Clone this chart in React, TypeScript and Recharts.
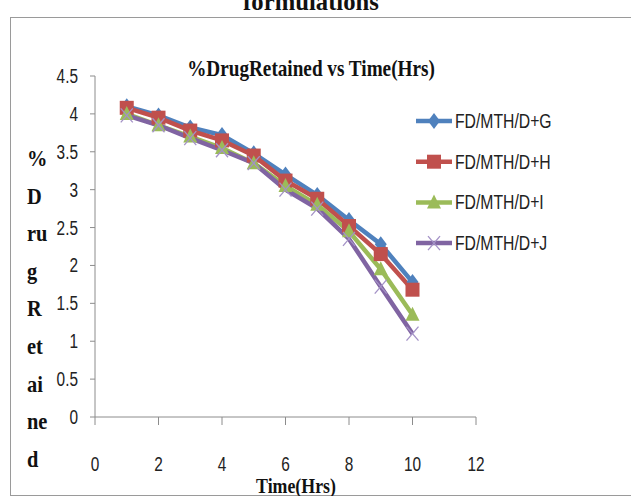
import { LineChart, Line, XAxis, YAxis } from 'recharts'

// hours on the x axis
const hours = [1, 2, 3, 4, 5, 6, 7, 8, 9, 10]

// % drug retained per formulation
const fdG = [4.1, 3.98, 3.82, 3.72, 3.48, 3.2, 2.93, 2.6, 2.28, 1.78]
const fdH = [4.08, 3.95, 3.78, 3.65, 3.45, 3.12, 2.88, 2.52, 2.15, 1.68]
const fdI = [4.0, 3.85, 3.7, 3.55, 3.35, 3.05, 2.8, 2.45, 1.95, 1.35]
const fdJ = [3.98, 3.85, 3.68, 3.52, 3.35, 3.0, 2.75, 2.35, 1.72, 1.1]

const xTicks = [0, 2, 4, 6, 8, 10, 12]
const yTicks = [0, 0.5, 1, 1.5, 2, 2.5, 3, 3.5, 4, 4.5]
const yLabelParts = ['%', 'D', 'ru', 'g', 'R', 'et', 'ai', 'ne', 'd']

const data = hours.map((h, i) => ({ h, G: fdG[i], H: fdH[i], I: fdI[i], J: fdJ[i] }))

const SERIF = '"Liberation Serif", "Times New Roman", serif'
const SANS = '"Liberation Sans", Arial, sans-serif'

const BLUE = '#4f81bd'
const RED = '#c0504d'
const GREEN = '#9bbb59'
const PURPLE = '#8064a2'

// text squeezed horizontally, like the narrow fonts of the original
function Squeezed({ x, y, sx, anchor = 'start', children, ...rest }: any) {
  return (
    <text transform={`translate(${x},${y}) scale(${sx},1)`} textAnchor={anchor} {...rest}>
      {children}
    </text>
  )
}

function Diamond(props: any) {
  const { cx, cy } = props
  if (cx == null || cy == null) return null
  return <polygon points={`${cx},${cy - 8} ${cx + 6},${cy} ${cx},${cy + 8} ${cx - 6},${cy}`} fill={BLUE} />
}

function Square(props: any) {
  const { cx, cy } = props
  if (cx == null || cy == null) return null
  return <rect x={cx - 7} y={cy - 7} width={14} height={14} fill={RED} />
}

function Triangle(props: any) {
  const { cx, cy } = props
  if (cx == null || cy == null) return null
  return <polygon points={`${cx},${cy - 8} ${cx + 7},${cy + 6} ${cx - 7},${cy + 6}`} fill={GREEN} />
}

function Cross(props: any) {
  const { cx, cy } = props
  if (cx == null || cy == null) return null
  return (
    <g stroke="#a391c6" strokeWidth={1.3}>
      <line x1={cx - 6} y1={cy - 7} x2={cx + 6} y2={cy + 7} />
      <line x1={cx - 6} y1={cy + 7} x2={cx + 6} y2={cy - 7} />
    </g>
  )
}

const legendItems = [
  { name: 'FD/MTH/D+G', color: BLUE, Shape: Diamond },
  { name: 'FD/MTH/D+H', color: RED, Shape: Square },
  { name: 'FD/MTH/D+I', color: GREEN, Shape: Triangle },
  { name: 'FD/MTH/D+J', color: PURPLE, Shape: Cross },
]

function XTick(props: any) {
  const { x, payload } = props
  return (
    <Squeezed x={x} y={471} sx={0.77} anchor="middle" fontFamily={SANS} fontSize={20} fill="#222">
      {payload.value}
    </Squeezed>
  )
}

function YTick(props: any) {
  const { y, payload } = props
  return (
    <Squeezed x={78} y={y + 7} sx={0.77} anchor="end" fontFamily={SANS} fontSize={20} fill="#222">
      {payload.value}
    </Squeezed>
  )
}

function YLabel() {
  return (
    <g>
      {yLabelParts.map((p, i) => (
        <Squeezed key={i} x={27} y={166 + i * 37.6} sx={0.85} fontFamily={SERIF} fontWeight="bold" fontSize={24} fill="#111">
          {p}
        </Squeezed>
      ))}
    </g>
  )
}

function XLabel() {
  return (
    <Squeezed x={296} y={493} sx={0.85} anchor="middle" fontFamily={SERIF} fontWeight="bold" fontSize={21} fill="#111">
      Time(Hrs)
    </Squeezed>
  )
}

export default function App() {
  return (
    <div style={{ position: 'absolute', left: 0, top: 0, width: 631, height: 496, background: '#fff', overflow: 'hidden' }}>
      <div style={{ position: 'absolute', left: 10, top: 17, width: 640, height: 477, border: '1.5px solid #9a9a9a' }} />
      <svg width={631} height={30} style={{ position: 'absolute', left: 0, top: 0 }}>
        <Squeezed x={311} y={10} sx={0.95} anchor="middle" fontFamily={SERIF} fontWeight="bold" fontSize={26} fill="#111">
          formulations
        </Squeezed>
      </svg>
      <LineChart
        width={631}
        height={496}
        data={data}
        margin={{ top: 76, right: 155, left: 35, bottom: 0 }}
        style={{ position: 'absolute', left: 0, top: 0 }}
      >
        <Squeezed x={311} y={76} sx={0.8} anchor="middle" fontFamily={SERIF} fontWeight="bold" fontSize={24} fill="#111">
          %DrugRetained vs Time(Hrs)
        </Squeezed>
        <XAxis
          dataKey="h"
          type="number"
          domain={[0, 12]}
          ticks={xTicks}
          height={79}
          stroke="#8c8c8c"
          tickSize={8}
          tick={<XTick />}
          label={{ content: () => <XLabel /> }}
        />
        <YAxis
          type="number"
          domain={[0, 4.5]}
          ticks={yTicks}
          width={60}
          stroke="#8c8c8c"
          tickSize={5}
          interval={0}
          tick={<YTick />}
          label={{ content: () => <YLabel /> }}
        />
        <Line type="linear" dataKey="G" stroke={BLUE} strokeWidth={4.5} dot={<Diamond />} isAnimationActive={false} />
        <Line type="linear" dataKey="H" stroke={RED} strokeWidth={4.5} dot={<Square />} isAnimationActive={false} />
        <Line type="linear" dataKey="I" stroke={GREEN} strokeWidth={4.5} dot={<Triangle />} isAnimationActive={false} />
        <Line type="linear" dataKey="J" stroke={PURPLE} strokeWidth={4.5} dot={<Cross />} isAnimationActive={false} />
      </LineChart>
      <svg width={215} height={170} style={{ position: 'absolute', left: 410, top: 100 }}>
        {legendItems.map((it, i) => {
          const cy = 21 + i * 40.7
          return (
            <g key={it.name}>
              <line x1={6} y1={cy} x2={42} y2={cy} stroke={it.color} strokeWidth={4.5} />
              <it.Shape cx={24} cy={cy} />
              <Squeezed x={45} y={cy + 7} sx={0.75} fontFamily={SANS} fontSize={21} fill="#222">
                {it.name}
              </Squeezed>
            </g>
          )
        })}
      </svg>
    </div>
  )
}
